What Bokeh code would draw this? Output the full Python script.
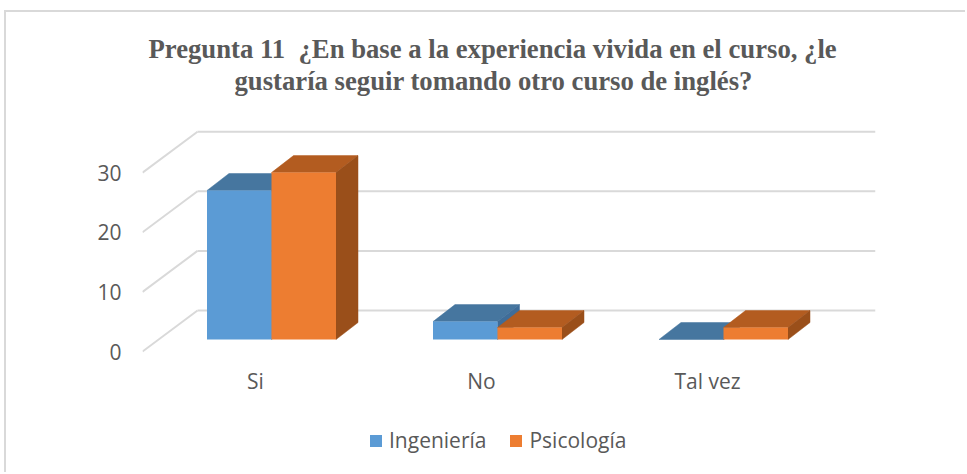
from bokeh.plotting import figure
from bokeh.models import FixedTicker, Legend, LegendItem, Title
from bokeh.embed import file_html
from bokeh.resources import INLINE

categories = ["Si", "No", "Tal vez"]
ingenieria = [25, 3, 0]
psicologia = [28, 2, 2]
grid_values = [0, 10, 20, 30]
title_line_1 = "Pregunta 11\u00a0 ¿En base a la experiencia vivida en el curso, ¿le"
title_line_2 = "gustaría seguir tomando otro curso de inglés?"

# Oblique projection, in data units (1 x unit = one category, y unit = value)
BAR_W = 64.5 / 226
BAR_DX, BAR_DY = 22 / 226, 17 / 5.96          # depth of a bar
FLOOR_DX, FLOOR_DY = 16 / 226, 12 / 5.96      # from axis plane to the bars' front
WALL_DX, WALL_DY = 55 / 226, 41 / 5.96        # from axis plane to the back wall
X0, X1 = -0.5, 2.5

p = figure(width=961, height=462, output_backend="svg", toolbar_location=None,
           x_range=(X0, X1 + WALL_DX), y_range=(-109 / 5.96, 256 / 5.96), title=None,
           min_border_left=136, min_border_right=92, min_border_top=83, min_border_bottom=14)
p.margin = (10, 0, 0, 4)
p.styles = {"border-left": "2px solid #D9D9D9", "border-top": "2px solid #D9D9D9"}
p.outline_line_color = None
p.xgrid.visible = False
p.ygrid.visible = False

p.xaxis.ticker = FixedTicker(ticks=[0, 1, 2])
p.xaxis.major_label_overrides = {i: c for i, c in enumerate(categories)}
p.xaxis.fixed_location = 0
p.yaxis.ticker = FixedTicker(ticks=grid_values)
for ax, standoff in ((p.xaxis, 9), (p.yaxis, 15)):
    ax.axis_line_color = None
    ax.major_tick_line_color = None
    ax.minor_tick_line_color = None
    ax.major_label_text_font = "Open Sans"
    ax.major_label_text_font_size = "21px"
    ax.major_label_text_color = "#595959"
    ax.major_label_standoff = standoff

# walls
GRID = "#D9D9D9"
p.segment([X0] * 4, grid_values, [X0 + WALL_DX] * 4, [v + WALL_DY for v in grid_values],
          line_color=GRID, line_width=2)
p.segment([X0 + WALL_DX] * 4, [v + WALL_DY for v in grid_values],
          [X1 + WALL_DX] * 4, [v + WALL_DY for v in grid_values],
          line_color=GRID, line_width=2)


def bar3d(i, v, offset, front, top, side):
    left = i + FLOOR_DX + offset
    right = left + BAR_W
    base = FLOOR_DY
    h = base + v
    p.patch([left, right, right + BAR_DX, left + BAR_DX],
            [h, h, h + BAR_DY, h + BAR_DY], fill_color=top, line_color=top, line_width=0.5)
    p.patch([right, right + BAR_DX, right + BAR_DX, right],
            [base, base + BAR_DY, h + BAR_DY, h], fill_color=side, line_color=side, line_width=0.5)


blue = ("#5B9BD5", "#46769F", "#3F6D99")
orange = ("#ED7D31", "#B35C20", "#9A4F1A")
renderers = []
for i in range(len(categories)):
    bar3d(i, ingenieria[i], -BAR_W, *blue)
    r1 = p.vbar(x=[i + FLOOR_DX - BAR_W / 2], bottom=[FLOOR_DY], top=[FLOOR_DY + ingenieria[i]],
                width=BAR_W, fill_color=blue[0], line_color=None)
    bar3d(i, psicologia[i], 0, *orange)
    r2 = p.vbar(x=[i + FLOOR_DX + BAR_W / 2], bottom=[FLOOR_DY], top=[FLOOR_DY + psicologia[i]],
                width=BAR_W, fill_color=orange[0], line_color=None)
    renderers.append((r1, r2))

legend = Legend(items=[LegendItem(label="Ingeniería", renderers=[renderers[0][0]]),
                       LegendItem(label="Psicología", renderers=[renderers[0][1]])],
                orientation="horizontal", location=(226, 6), border_line_color=None,
                background_fill_alpha=0, glyph_width=15, glyph_height=15, label_standoff=6,
                spacing=22, padding=0, margin=0,
                label_text_font="Open Sans", label_text_font_size="21px", label_text_color="#595959")
p.add_layout(legend)

for text, off in ((title_line_2, 92), (title_line_1, 6)):
    p.add_layout(Title(text=text, align="left", offset=off, standoff=0,
                       text_font="Liberation Serif", text_font_style="bold", text_font_size="26.7px",
                       text_color="#595959"), "above")

open("out.html", "w").write(file_html(p, INLINE))
